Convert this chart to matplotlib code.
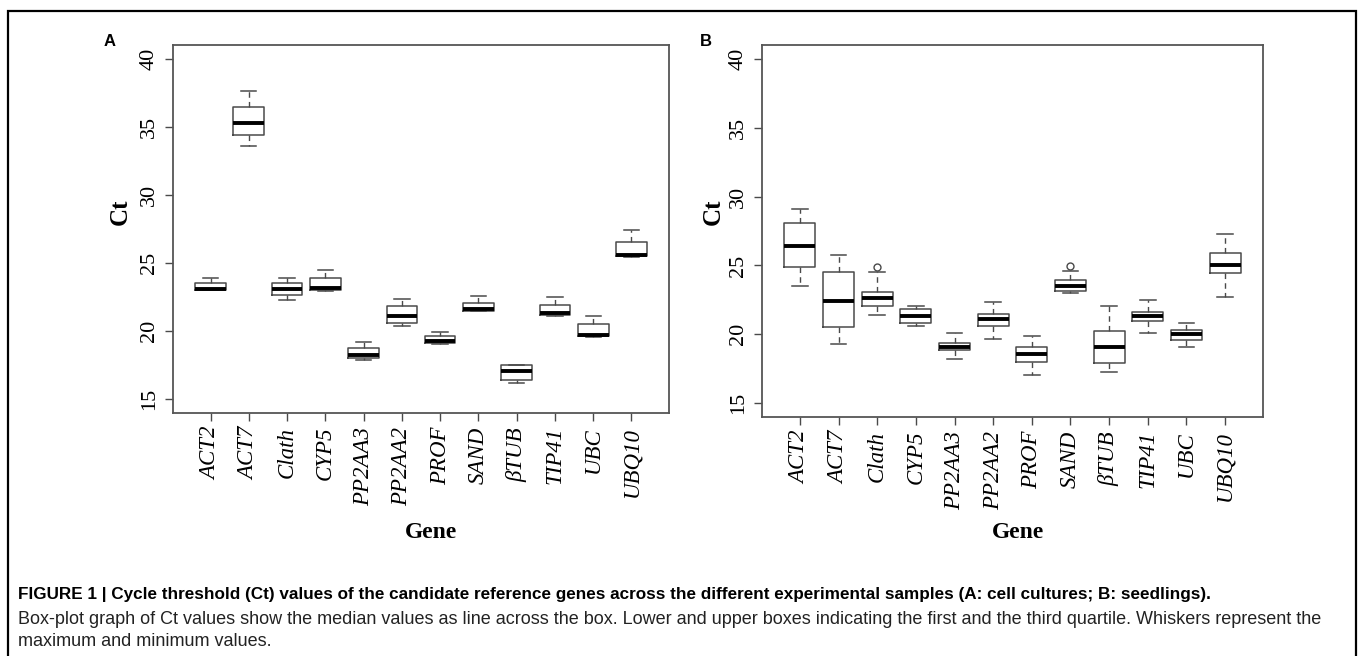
import matplotlib.pyplot as plt
from matplotlib.patches import Rectangle

plt.rcParams["font.family"] = "Liberation Serif"

GENES = ["ACT2", "ACT7", "Clath", "CYP5", "PP2AA3", "PP2AA2", "PROF",
         "SAND", "βTUB", "TIP41", "UBC", "UBQ10"]

# Panel A: cell cultures (min, q1, median, q3, max)
A_MIN = [23.0, 33.6, 22.3, 22.94, 17.9, 20.36, 19.07, 21.48, 16.2, 21.09, 19.6, 25.42]
A_Q1 = [23.05, 34.42, 22.67, 23.0, 18.03, 20.6, 19.15, 21.5, 16.4, 21.21, 19.64, 25.5]
A_MED = [23.1, 35.28, 23.11, 23.18, 18.22, 21.14, 19.27, 21.63, 17.05, 21.34, 19.75, 25.62]
A_Q3 = [23.53, 36.47, 23.57, 23.87, 18.76, 21.82, 19.66, 22.1, 17.49, 21.92, 20.51, 26.57]
A_MAX = [23.94, 37.64, 23.94, 24.52, 19.22, 22.33, 19.97, 22.55, 17.49, 22.48, 21.09, 27.42]
A_OUT = [[] for _ in GENES]

# Panel B: seedlings
B_MIN = [23.49, 19.3, 21.39, 20.59, 18.19, 19.69, 17.07, 22.98, 17.29, 20.1, 19.08, 22.72]
B_Q1 = [24.89, 20.51, 22.04, 20.85, 18.84, 20.59, 18.02, 23.17, 17.94, 21.0, 19.6, 24.48]
B_MED = [26.44, 22.4, 22.62, 21.36, 19.08, 21.14, 18.55, 23.54, 19.11, 21.36, 20.0, 25.02]
B_Q3 = [28.11, 24.56, 23.1, 21.82, 19.35, 21.5, 19.11, 23.93, 20.25, 21.65, 20.3, 25.89]
B_MAX = [29.11, 25.79, 24.51, 22.09, 20.1, 22.38, 19.91, 24.6, 22.09, 22.5, 20.8, 27.31]
B_OUT = [[], [], [24.87], [], [], [], [], [24.99], [], [], [], []]

Y_TICKS = [15, 20, 25, 30, 35, 40]

CAPTION_BOLD = ("FIGURE 1 | Cycle threshold (Ct) values of the candidate reference genes "
                "across the different experimental samples (A: cell cultures; B: seedlings).")
CAPTION_1 = ("Box-plot graph of Ct values show the median values as line across the box. "
             "Lower and upper boxes indicating the first and the third quartile. Whiskers represent the")
CAPTION_2 = "maximum and minimum values."

BOX_COLOR = "#4a4a4a"


def draw_panel(ax, mins, q1s, meds, q3s, maxs, outs, xlab_x, xlab_y, ylab_x, ylab_y):
    stats = []
    for i, g in enumerate(GENES):
        stats.append(dict(label=g, whislo=mins[i], q1=q1s[i], med=meds[i],
                          q3=q3s[i], whishi=maxs[i], fliers=outs[i]))
    ax.bxp(stats, positions=range(1, len(GENES) + 1), widths=0.8,
           capwidths=0.4, showfliers=True,
           boxprops=dict(color=BOX_COLOR, linewidth=1.1),
           medianprops=dict(color="black", linewidth=2.8, solid_capstyle="butt"),
           whiskerprops=dict(color=BOX_COLOR, linewidth=1.0, linestyle=(0, (4, 3))),
           capprops=dict(color=BOX_COLOR, linewidth=1.1),
           flierprops=dict(marker="o", markerfacecolor="none",
                           markeredgecolor=BOX_COLOR, markersize=5, markeredgewidth=1.0))
    ax.set_xlim(0.02, 12.98)
    ax.set_ylim(14, 41)
    ax.set_yticks(Y_TICKS)
    ax.set_yticklabels([str(t) for t in Y_TICKS], rotation=90, va="center", fontsize=16)
    ax.set_xticks(range(1, len(GENES) + 1))
    ax.set_xticklabels(GENES, rotation=90, style="italic", fontsize=16.5, va="top", ha="center")
    ax.tick_params(axis="both", direction="out", length=6, width=1.0, color=BOX_COLOR, pad=4)
    for sp in ax.spines.values():
        sp.set_color("#555555")
        sp.set_linewidth(1.3)
    ax.set_ylabel("Ct", fontsize=18, fontweight="bold")
    ax.yaxis.set_label_coords(ylab_x, ylab_y)
    ax.set_xlabel("Gene", fontsize=17, fontweight="bold")
    ax.xaxis.set_label_coords(xlab_x, xlab_y)


fig = plt.figure(figsize=(13.58, 6.56), dpi=100)
ax_a = fig.add_axes([173 / 1358, 1 - 413 / 656, 496 / 1358, 368 / 656])
ax_b = fig.add_axes([762 / 1358, 1 - 417 / 656, 501 / 1358, 372 / 656])

draw_panel(ax_a, A_MIN, A_Q1, A_MED, A_Q3, A_MAX, A_OUT, 0.52, -0.296, -0.083, 0.546)
draw_panel(ax_b, B_MIN, B_Q1, B_MED, B_Q3, B_MAX, B_OUT, 0.511, -0.282, -0.074, 0.551)

sans = "Liberation Sans"
fig.text(110 / 1358, 1 - 42 / 656, "A", family=sans, fontweight="bold", fontsize=12,
         ha="center", va="center")
fig.text(706 / 1358, 1 - 42 / 656, "B", family=sans, fontweight="bold", fontsize=12,
         ha="center", va="center")

fig.text(18 / 1358, 1 - 595 / 656, CAPTION_BOLD, family=sans, fontweight="bold",
         fontsize=12.3, ha="left", va="center")
fig.text(18 / 1358, 1 - 619 / 656, CAPTION_1, family=sans, fontsize=13, ha="left", va="center",
         color="#222222")
fig.text(18 / 1358, 1 - 641 / 656, CAPTION_2, family=sans, fontsize=13, ha="left", va="center",
         color="#222222")

# outer frame around the figure (bottom edge runs off the image)
fig.patches.append(Rectangle((8 / 1358, -0.2), 1348 / 1358, 1.2 - 11 / 656,
                             transform=fig.transFigure, fill=False,
                             edgecolor="black", linewidth=1.6))

fig.savefig("out.png", dpi=100)
